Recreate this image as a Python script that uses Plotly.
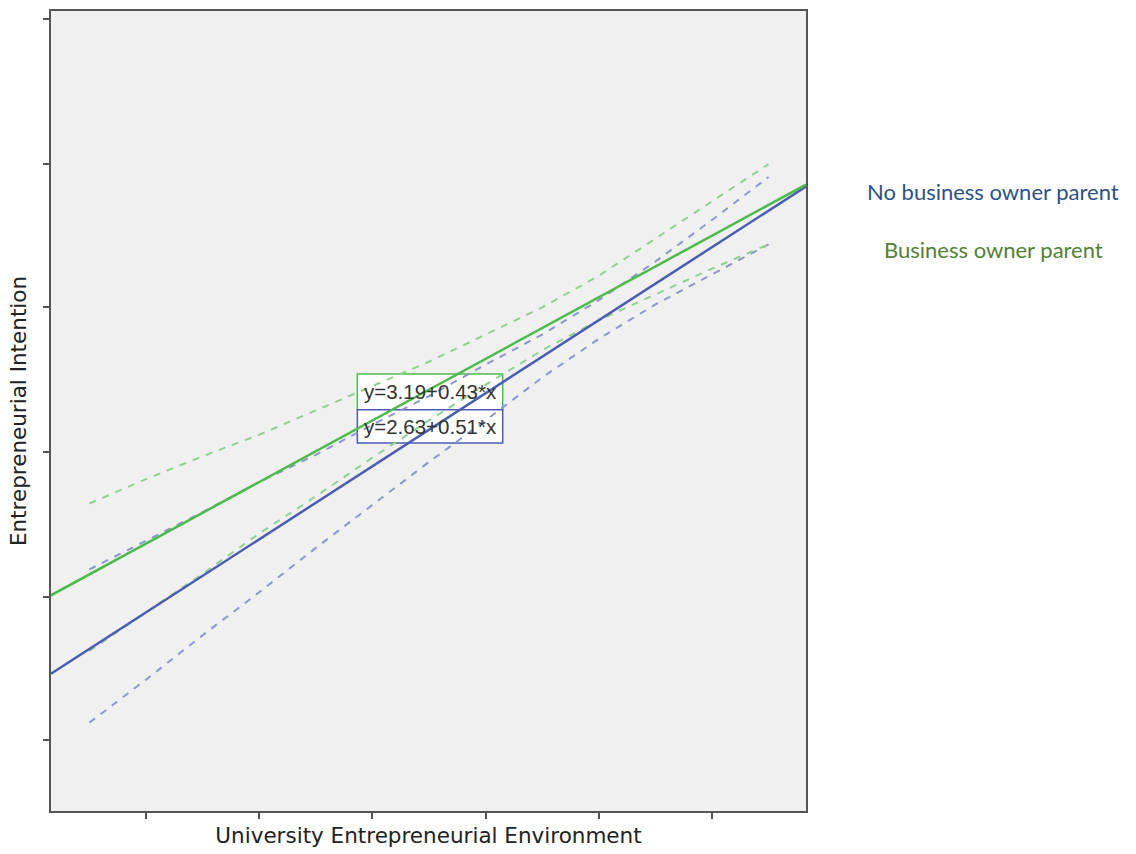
import plotly.graph_objects as go

# Regression fits of Entrepreneurial Intention on University Entrepreneurial Environment
groups = ["No business owner parent", "Business owner parent"]
intercepts = [2.63, 3.19]
slopes = [0.51, 0.43]

# 95% confidence bands of the fitted mean, read at these x values
band_x = [0.5, 1.0, 1.5, 2.0, 2.5, 3.0, 3.5, 4.0, 4.5, 5.0, 5.5, 6.0, 6.5]
no_owner_upper = [3.44, 3.64, 3.84, 4.05, 4.24, 4.45, 4.65, 4.87, 5.08, 5.32, 5.59, 5.88, 6.18]
no_owner_lower = [2.37, 2.67, 2.98, 3.28, 3.59, 3.89, 4.19, 4.48, 4.78, 5.05, 5.29, 5.50, 5.71]
owner_upper = [3.90, 4.07, 4.23, 4.38, 4.55, 4.72, 4.89, 5.08, 5.27, 5.49, 5.75, 6.01, 6.27]
owner_lower = [2.87, 3.14, 3.41, 3.69, 3.95, 4.22, 4.48, 4.73, 4.97, 5.18, 5.36, 5.54, 5.71]

x_ticks = [1, 2, 3, 4, 5, 6]
y_ticks = [2.25, 3.25, 4.26, 5.27, 6.27, 7.28]
x_range = [0.161, 6.83]
y_range = [1.753, 7.339]

line_colors = ["#4a5db3", "#4cbb4c"]
band_colors = ["#8f95cf", "#8fd18f"]
text_colors = ["#2c5287", "#538135"]

fig = go.Figure()

bands = [(no_owner_upper, no_owner_lower), (owner_upper, owner_lower)]
for i, (up, lo) in enumerate(bands):
    for arr in (up, lo):
        fig.add_trace(go.Scatter(
            x=band_x, y=arr, mode="lines",
            line=dict(color=band_colors[i], width=2, dash="7px,7px"),
            hoverinfo="skip", showlegend=False))

for i in range(len(groups)):
    xs = list(x_range)
    ys = [intercepts[i] + slopes[i] * v for v in xs]
    fig.add_trace(go.Scatter(
        x=xs, y=ys, mode="lines", name=groups[i],
        line=dict(color=line_colors[i], width=2.5), showlegend=False))

# equation boxes (drawn under the lines)
box_x = [2.867, 4.151]
box_y = [4.804, 4.554, 4.322]
fig.add_shape(type="rect", x0=box_x[0], x1=box_x[1], y0=box_y[1], y1=box_y[0],
              xref="x", yref="y", layer="below",
              fillcolor="white", line=dict(color=line_colors[1], width=1.5))
fig.add_shape(type="rect", x0=box_x[0], x1=box_x[1], y0=box_y[2], y1=box_y[1],
              xref="x", yref="y", layer="below",
              fillcolor="white", line=dict(color=line_colors[0], width=1.5))

eq_font = dict(family="Liberation Sans, Arial, sans-serif", size=20.5, color="#333333")
for i, yc in ((1, (box_y[0] + box_y[1]) / 2), (0, (box_y[1] + box_y[2]) / 2)):
    fig.add_annotation(x=(box_x[0] + box_x[1]) / 2, y=yc, xref="x", yref="y",
                       xanchor="center", yanchor="middle",
                       text=f"y={intercepts[i]:.2f}+{slopes[i]:.2f}*x",
                       showarrow=False, font=eq_font)

# group labels to the right of the plot (pixel positions converted to paper)
PLOT_L, PLOT_W, PLOT_B, PLOT_H = 51, 755, 43, 802
for i, ypos in ((0, 190), (1, 248)):
    fig.add_annotation(x=(993 - PLOT_L) / PLOT_W, y=(854 - ypos - PLOT_B) / PLOT_H,
                       xref="paper", yref="paper", xanchor="center", yanchor="middle",
                       text=groups[i], showarrow=False,
                       font=dict(family="Lato, Open Sans, sans-serif", size=22,
                                 color=text_colors[i]))

fig.update_layout(
    width=1136, height=854,
    margin=dict(l=PLOT_L, r=1136 - PLOT_L - PLOT_W, t=9, b=PLOT_B),
    paper_bgcolor="white", plot_bgcolor="#f0f0f0",
    showlegend=False,
)

title_font = dict(family="DejaVu Sans", size=21.5, color="#222222")
axis_common = dict(showgrid=False, zeroline=False, showline=True, mirror=True,
                   linecolor="#555555", linewidth=2, ticks="outside", ticklen=6,
                   tickwidth=2, tickcolor="#555555", showticklabels=False)
fig.update_xaxes(range=x_range, tickvals=x_ticks, **axis_common,
                 title=dict(text="University Entrepreneurial Environment",
                            font=title_font, standoff=10))
fig.update_yaxes(range=y_range, tickvals=y_ticks, **axis_common,
                 title=dict(text="Entrepreneurial Intention",
                            font=title_font, standoff=10))

fig.write_html("out.html")
